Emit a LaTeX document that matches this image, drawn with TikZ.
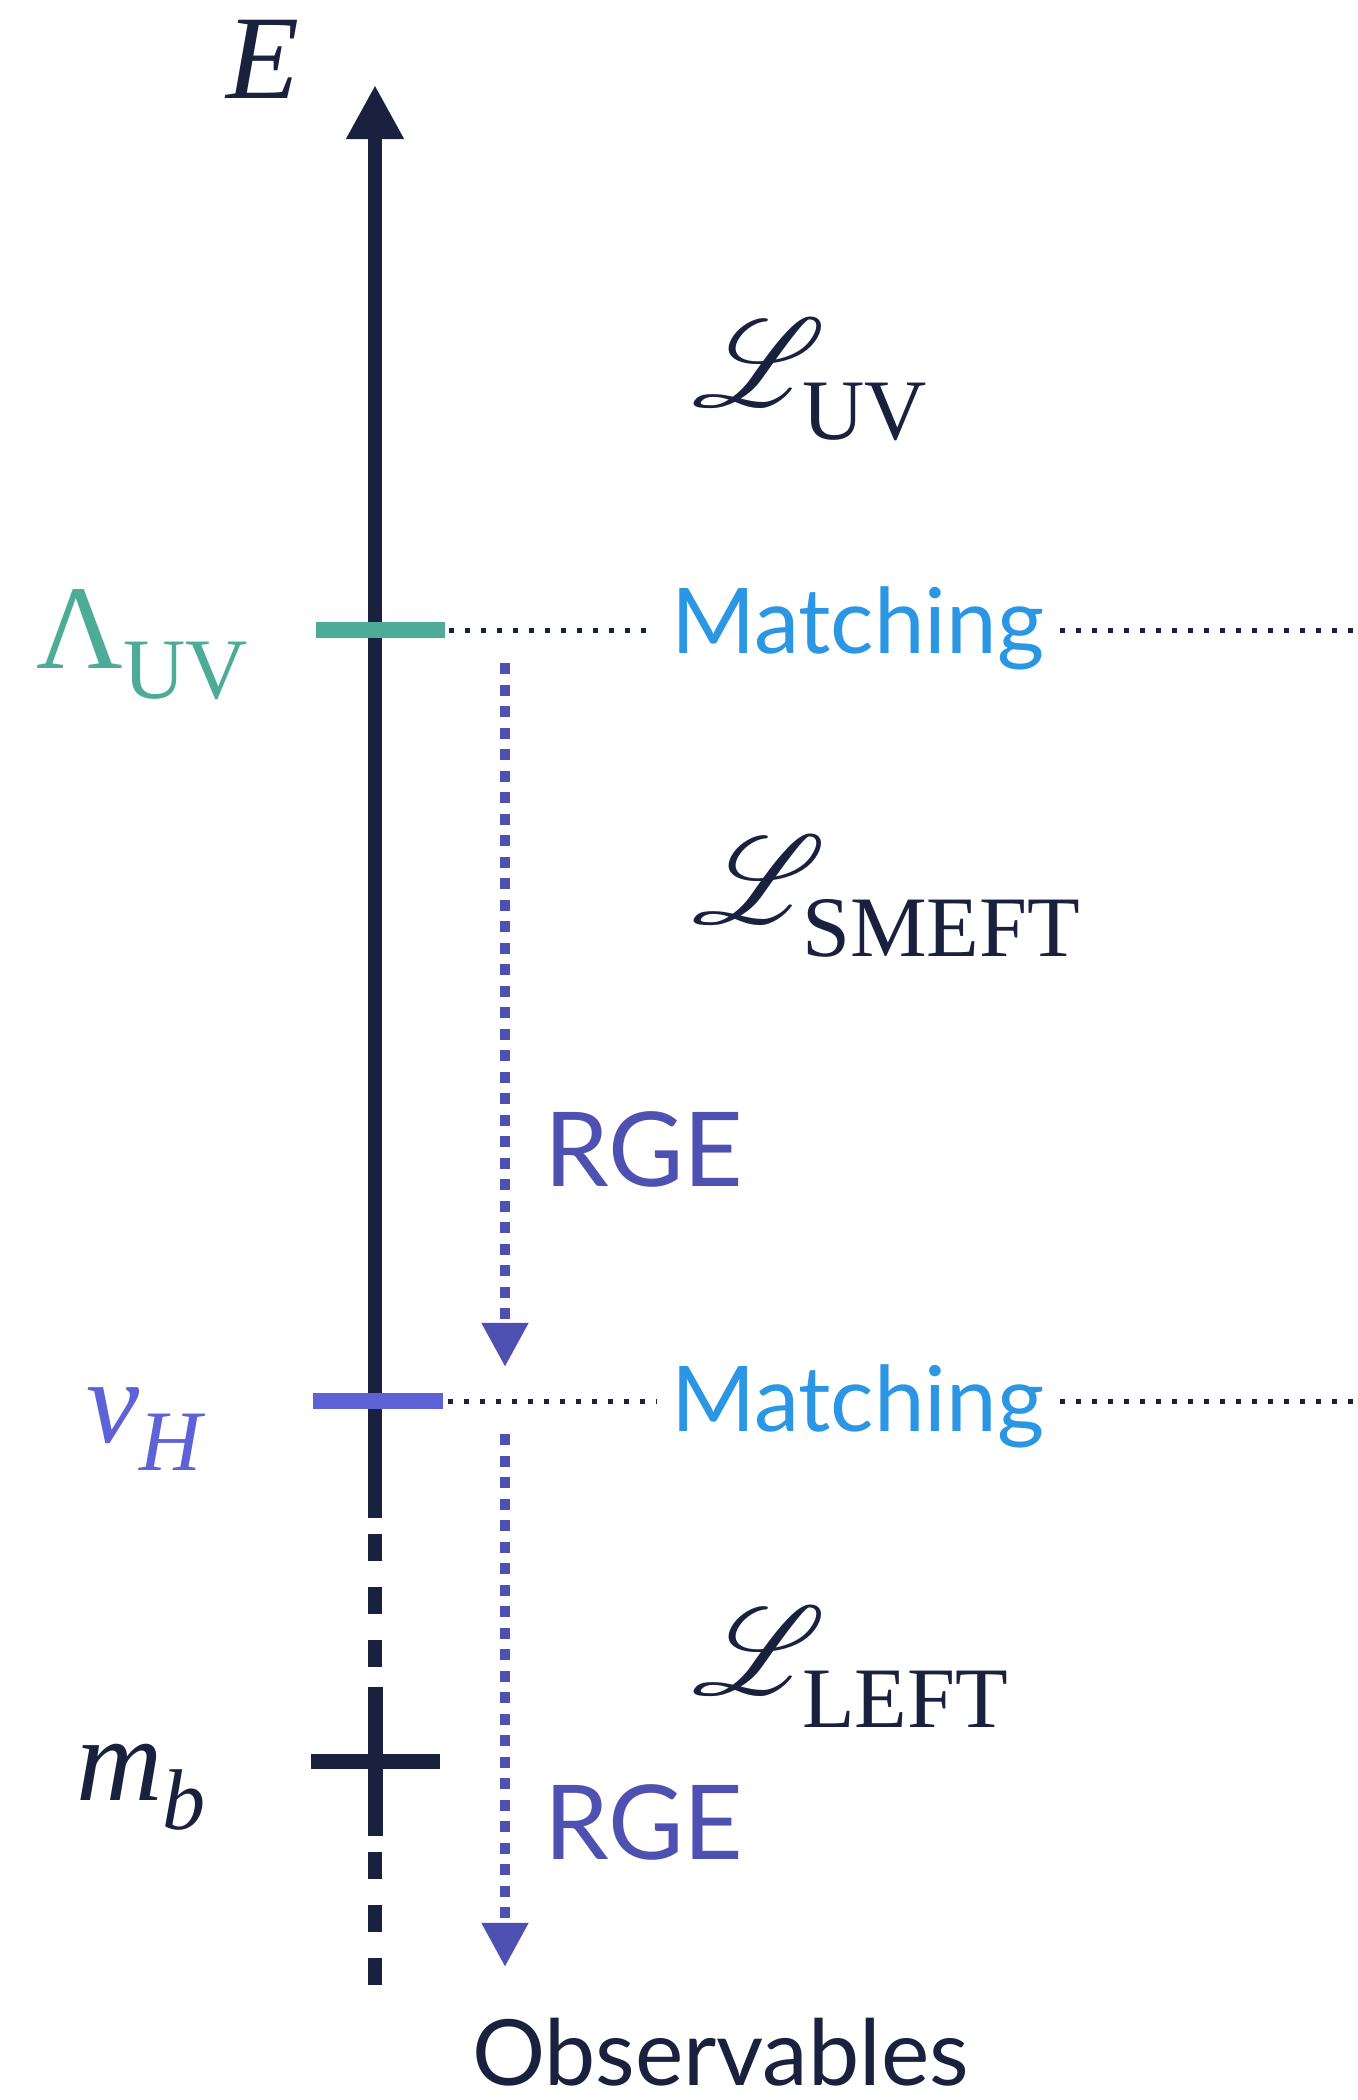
\documentclass[tikz,border=0pt]{standalone}
\usepackage{fontspec}
\setmainfont{Liberation Serif}
\newfontfamily\latofont{Lato}
\usepackage{mathrsfs}
\usetikzlibrary{arrows.meta}
\definecolor{navy}{HTML}{19213F}
\definecolor{tealc}{HTML}{4DAC97}
\definecolor{vpurple}{HTML}{5D62D6}
\definecolor{rgepurple}{HTML}{4E51B1}
\definecolor{mblue}{HTML}{2B96E3}
\newcommand{\bigsz}{\fontsize{34}{34}\selectfont}
\newcommand{\subsz}{\fontsize{24.5}{24.5}\selectfont}
\newcommand{\scrL}{\scalebox{3.55}{\fontsize{10}{10}\selectfont$\mathscr{L}$}\hspace{-6.5pt}}
\begin{document}
\begin{tikzpicture}[x=0.01cm,y=-0.01cm,
  lbl/.style={inner sep=0pt,outer sep=0pt,anchor=base west},
  tickline/.style={line width=0.16cm},
  dotline/.style={navy,line width=0.05cm,dash pattern=on 0.05cm off 0.11cm},
  rgeline/.style={rgepurple,line width=0.105cm,dash pattern=on 0.11cm off 0.105cm,
    -{Triangle[length=0.44cm,width=0.44cm]}},
  matchtxt/.style={lbl,mblue,font=\latofont\fontsize{25.8}{25.8}\selectfont},
  rgetxt/.style={lbl,rgepurple,font=\latofont\fontsize{29.4}{29.4}\selectfont}]
\path[use as bounding box] (0,0) rectangle (1358,2100);

% axis
\coordinate (axtop) at (375,85);
\coordinate (axsolid) at (375,1518);
\coordinate (axdash) at (375,1534);
\coordinate (axbot) at (375,1987);
\draw[navy,line width=0.14cm,-{Triangle[length=0.54cm,width=0.54cm]}] (axsolid) -- (axtop);
\draw[navy,line width=0.14cm,dash pattern=on 0.27cm off 0.26cm] (axdash) -- (axbot);

% ticks
\coordinate (lamL) at (316,630); \coordinate (lamR) at (445,630);
\coordinate (vhL) at (313,1401); \coordinate (vhR) at (443,1401);
\coordinate (mbL) at (311,1761); \coordinate (mbR) at (440,1761);
\coordinate (mbT) at (375,1687); \coordinate (mbB) at (375,1836);
\draw[tealc,tickline] (lamL) -- (lamR);
\draw[vpurple,tickline] (vhL) -- (vhR);
\draw[navy,line width=0.15cm] (mbL) -- (mbR);
\draw[navy,line width=0.15cm] (mbT) -- (mbB);

% matching lines
\node[matchtxt] (m1) at (671,653) {Matching};
\node[matchtxt] (m2) at (671,1431) {Matching};
\coordinate (d1a) at (449,630); \coordinate (d1b) at (657,630);
\coordinate (d1c) at (1060,630); \coordinate (d1d) at (1358,630);
\coordinate (d2a) at (448,1401); \coordinate (d2b) at (657,1401);
\coordinate (d2c) at (1060,1401); \coordinate (d2d) at (1358,1401);
\draw[dotline] (d1a) -- (d1b);
\draw[dotline] (d1c) -- (d1d);
\draw[dotline] (d2a) -- (d2b);
\draw[dotline] (d2c) -- (d2d);

% RGE arrows
\coordinate (r1s) at (505,663); \coordinate (r1e) at (505,1367);
\coordinate (r2s) at (505,1434); \coordinate (r2e) at (505,1967);
\draw[rgeline] (r1s) -- (r1e);
\draw[rgeline] (r2s) -- (r2e);
\node[rgetxt] (rge1) at (544,1186) {RGE};
\node[rgetxt] (rge2) at (544,1859) {RGE};

% axis labels
\node[lbl,navy] (E) at (226,99) {\bigsz\itshape E};
\node[lbl,tealc] (lam) at (37,668) {\bigsz Λ\raisebox{-8.8pt}{\subsz UV}};
\node[lbl,vpurple] (vh) at (86,1442) {\bigsz\itshape v\raisebox{-8pt}{\subsz H}};
\node[lbl,navy] (mb) at (76,1800) {\bigsz\itshape m\raisebox{-8.3pt}{\subsz b}};

% Lagrangians
\node[lbl,navy] (Luv) at (692,406) {\scrL\raisebox{-9.5pt}{\subsz UV}};
\node[lbl,navy] (Lsm) at (692,923) {\scrL\raisebox{-9.5pt}{\subsz SMEFT}};
\node[lbl,navy] (Lle) at (692,1694) {\scrL\raisebox{-9.5pt}{\subsz LEFT}};

% observables
\node[lbl,navy,font=\latofont\fontsize{26}{26}\selectfont] (obs) at (472,2085) {Observables};
\end{tikzpicture}
\end{document}
